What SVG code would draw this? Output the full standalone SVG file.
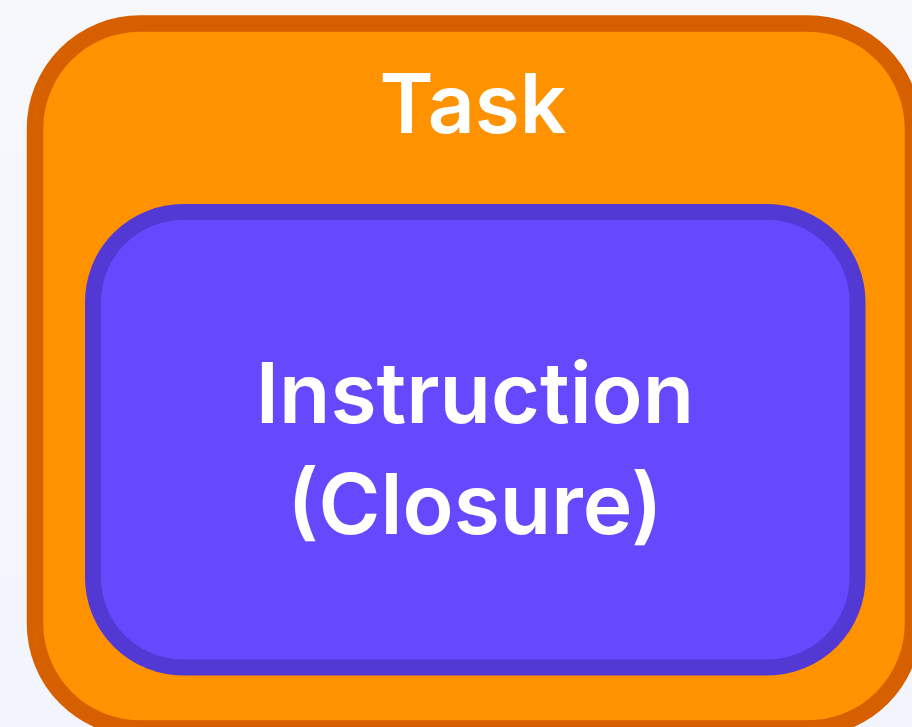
<svg xmlns="http://www.w3.org/2000/svg" width="912" height="727" viewBox="0 0 912 727">
  <defs>
    <linearGradient id="bg" x1="0" y1="0" x2="0" y2="1">
      <stop offset="0" stop-color="#f7f8fc"/>
      <stop offset="1" stop-color="#f3f5fe"/>
    </linearGradient>
    <style>
      .lbl { font-family: Inter, "Noto Sans", "Liberation Sans", sans-serif; font-weight: 600; fill: #ffffff; text-anchor: middle; }
    </style>
  </defs>
  <rect x="0" y="0" width="912" height="727" fill="url(#bg)"/>
  <g id="task">
    <rect x="35" y="23.5" width="878" height="705" rx="105" ry="105" fill="#ff9200" stroke="#d66000" stroke-width="16.5"/>
    <text class="lbl" x="473" y="133" font-size="82">Task</text>
  </g>
  <g id="instruction">
    <rect x="93" y="212" width="764.5" height="455.5" rx="90" ry="90" fill="#6649ff" stroke="#5339d4" stroke-width="16"/>
    <text class="lbl" x="475" y="423" font-size="84">Instruction</text>
    <text class="lbl" x="475" y="534" font-size="84">(Closure)</text>
  </g>
  <g id="connectors"/>
</svg>
